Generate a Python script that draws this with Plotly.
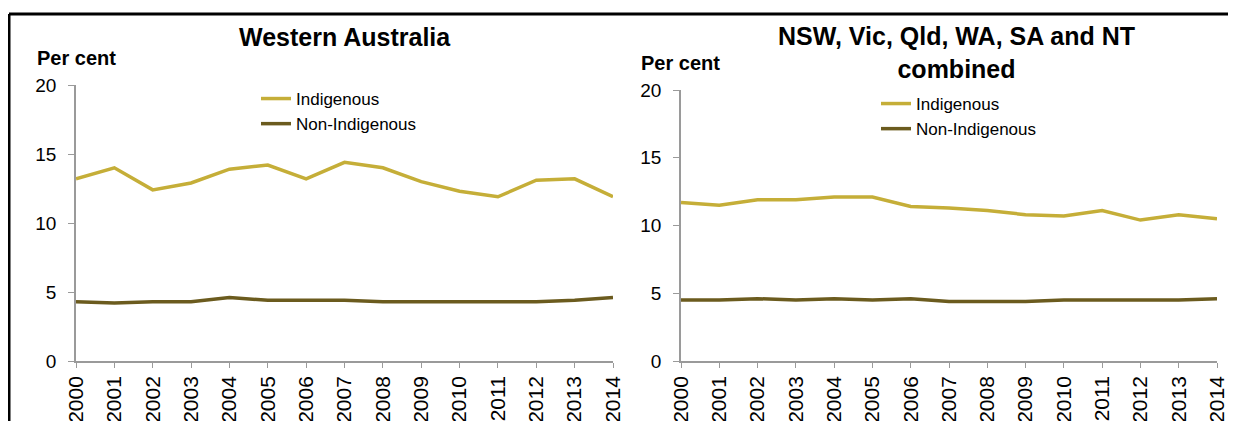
import plotly.graph_objects as go

years = list(range(2000, 2015))

# Western Australia
wa_indigenous = [13.2, 14.0, 12.4, 12.9, 13.9, 14.2, 13.2, 14.4, 14.0, 13.0, 12.3, 11.9, 13.1, 13.2, 11.9]
wa_non_indigenous = [4.3, 4.2, 4.3, 4.3, 4.6, 4.4, 4.4, 4.4, 4.3, 4.3, 4.3, 4.3, 4.3, 4.4, 4.6]

# NSW, Vic, Qld, WA, SA and NT combined
all_indigenous = [11.7, 11.5, 11.9, 11.9, 12.1, 12.1, 11.4, 11.3, 11.1, 10.8, 10.7, 11.1, 10.4, 10.8, 10.5]
all_non_indigenous = [4.5, 4.5, 4.6, 4.5, 4.6, 4.5, 4.6, 4.4, 4.4, 4.4, 4.5, 4.5, 4.5, 4.5, 4.6]

GOLD = "#C5AE38"
OLIVE = "#6B5B1E"
FONT = "Liberation Sans, Arial, sans-serif"
W, H = 1236, 421
OFF = 8  # the page body adds an 8px margin, so shift everything back by that


def px(x):
    return (x - OFF) / W


def py(y):
    return 1 - (y - OFF) / H


fig = go.Figure()

fig.add_trace(go.Scatter(x=years, y=wa_indigenous, name="Indigenous", mode="lines",
                         line=dict(color=GOLD, width=3.5), xaxis="x", yaxis="y", legend="legend"))
fig.add_trace(go.Scatter(x=years, y=wa_non_indigenous, name="Non-Indigenous", mode="lines",
                         line=dict(color=OLIVE, width=3.5), xaxis="x", yaxis="y", legend="legend"))
fig.add_trace(go.Scatter(x=years, y=all_indigenous, name="Indigenous", mode="lines",
                         line=dict(color=GOLD, width=3.5), xaxis="x2", yaxis="y2", legend="legend2"))
fig.add_trace(go.Scatter(x=years, y=all_non_indigenous, name="Non-Indigenous", mode="lines",
                         line=dict(color=OLIVE, width=3.5), xaxis="x2", yaxis="y2", legend="legend2"))

xcommon = dict(range=[2000, 2014], tickmode="array", tickvals=years, ticktext=[str(y) for y in years],
               tickangle=-90, showline=True, linecolor="#9a9a9a", linewidth=1.5, ticks="outside",
               ticklen=5, tickcolor="#9a9a9a", showgrid=False, zeroline=False,
               tickfont=dict(family=FONT, size=21, color="#000"), automargin=False)
ycommon = dict(range=[0, 20], tickvals=[0, 5, 10, 15, 20], showline=True, linecolor="#9a9a9a",
               linewidth=1.5, ticks="outside", ticklen=6, tickcolor="#9a9a9a", showgrid=False,
               zeroline=False, ticklabelstandoff=8,
               tickfont=dict(family=FONT, size=19, color="#000"), automargin=False)

legend_common = dict(font=dict(family=FONT, size=17, color="#000"), bgcolor="rgba(0,0,0,0)",
                     borderwidth=0, xanchor="left", yanchor="top", tracegroupgap=0,
                     itemclick=False, itemdoubleclick=False)

fig.update_layout(
    width=W, height=H,
    margin=dict(l=0, r=0, t=0, b=0),
    paper_bgcolor="white", plot_bgcolor="white",
    showlegend=True,
    xaxis=dict(xcommon, domain=[px(76), px(613)], anchor="y"),
    yaxis=dict(ycommon, domain=[py(361), py(85)], anchor="x"),
    xaxis2=dict(xcommon, domain=[px(681), px(1217)], anchor="y2"),
    yaxis2=dict(ycommon, domain=[py(361), py(90)], anchor="x2"),
    legend=dict(legend_common, x=px(256), y=py(81)),
    legend2=dict(legend_common, x=px(876), y=py(86)),
    annotations=[
        dict(text="<b>Western Australia</b>", x=px(345), y=py(37), xref="paper", yref="paper",
             xanchor="center", yanchor="middle", showarrow=False,
             font=dict(family=FONT, size=25, color="#000")),
        dict(text="<b>NSW, Vic, Qld, WA, SA and NT<br>combined</b>", x=px(956), y=py(52),
             xref="paper", yref="paper", xanchor="center", yanchor="middle", showarrow=False,
             font=dict(family=FONT, size=25, color="#000")),
        dict(text="<b>Per cent</b>", x=px(35), y=py(58), xref="paper", yref="paper",
             xanchor="left", yanchor="middle", showarrow=False,
             font=dict(family=FONT, size=20, color="#000")),
        dict(text="<b>Per cent</b>", x=px(639), y=py(63), xref="paper", yref="paper",
             xanchor="left", yanchor="middle", showarrow=False,
             font=dict(family=FONT, size=20, color="#000")),
    ],
    shapes=[
        dict(type="line", xref="paper", yref="paper", x0=px(9), x1=1.01, y0=py(14), y1=py(14),
             line=dict(color="#000", width=3)),
        dict(type="line", xref="paper", yref="paper", x0=px(9), x1=px(9), y0=py(14), y1=-0.05,
             line=dict(color="#000", width=3)),
    ],
)

fig.write_html("out.html")
